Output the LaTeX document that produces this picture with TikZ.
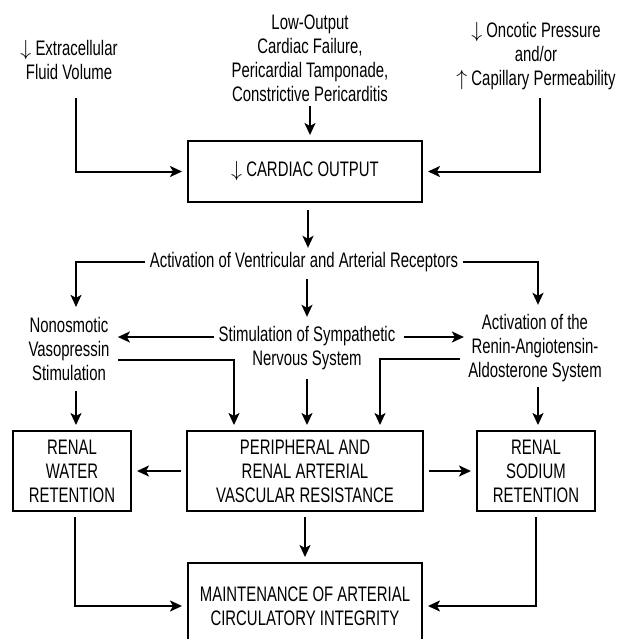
\documentclass[tikz,border=0pt]{standalone}
\usepackage{fontspec}
\setmainfont{Liberation Sans}[FakeStretch=0.71]
\usetikzlibrary{arrows.meta}

\begin{document}
\begin{tikzpicture}[x=0.5pt, y=-0.5pt, font=\fontsize{10.5pt}{12pt}\selectfont,
    txt/.style={align=center, inner sep=2pt},
    boxed/.style={draw, line width=1pt, align=center, outer sep=3pt},
    widebox/.style={boxed, minimum width=117pt, minimum height=40pt},
    narrowbox/.style={boxed, minimum width=59pt, minimum height=40pt},
    arr/.style={line width=1pt, -{Stealth[length=6pt, width=5.5pt, inset=1.5pt]}}]
    \useasboundingbox (0,0) rectangle (625,639);
    \clip (0,0) rectangle (625,639);

    % causes
    \node[txt] (ecf) at (69,60) {$\downarrow$ Extracellular\\Fluid Volume};
    \node[txt] (lco) at (310,58) {Low-Output\\Cardiac Failure,\\Pericardial Tamponade,\\Constrictive Pericarditis};
    \node[txt] (onc) at (536,56) {$\downarrow$ Oncotic Pressure\\and/or\\$\uparrow$ Capillary Permeability};
    \node[widebox, minimum height=30.5pt] (co) at (305,171.5) {$\downarrow$ CARDIAC OUTPUT};

    % responses
    \node[txt] (avr) at (304,262) {Activation of Ventricular and Arterial Receptors};
    \node[txt] (vaso) at (69,349) {Nonosmotic\\Vasopressin\\Stimulation};
    \node[txt] (symp) at (307,348) {Stimulation of Sympathetic\\Nervous System};
    \node[txt] (raas) at (535,348) {Activation of the\\Renin-Angiotensin-\\Aldosterone System};

    \node[narrowbox] (water) at (72,471) {RENAL\\WATER\\RETENTION};
    \node[widebox, minimum width=118pt] (periph) at (305,471) {PERIPHERAL AND\\RENAL ARTERIAL\\VASCULAR RESISTANCE};
    \node[narrowbox] (sodium) at (536,471) {RENAL\\SODIUM\\RETENTION};
    \node[widebox, minimum height=43pt] (maint) at (305,606) {MAINTENANCE OF ARTERIAL\\CIRCULATORY INTEGRITY};

    \draw[arr, shorten <=7pt] ([xshift=3.5pt]ecf.south) |- (co);
    \draw[arr] (lco.south) -- (lco.south |- co.north);
    \draw[arr, shorten <=2pt] ([xshift=2pt]onc.south) |- (co);
    \draw[arr, shorten <=1pt] ([xshift=1.5pt]co.south) -- ([xshift=1.5pt]co.south |- avr.north);

    \draw[arr, shorten >=3pt] (avr.west) -| ([xshift=3.5pt]vaso.north);
    \draw[arr, shorten >=2.5pt] (avr.east) -| ([xshift=1.5pt]raas.north);
    \draw[arr, shorten <=1.5pt, shorten >=2.5pt] (avr.south -| symp.north) -- (symp.north);

    \draw[arr, shorten >=2pt] ([yshift=5.5pt]symp.west) -- ([yshift=5.5pt]symp.west -| vaso.east);
    \draw[arr, shorten <=2pt] ([yshift=5.5pt]symp.east) -- ([yshift=5.5pt]symp.east -| raas.west);

    \draw[arr, shorten <=2pt] ([yshift=-5.5pt]vaso.east) -| ([xshift=-35.5pt]periph.north);
    \draw[arr, shorten <=2pt] ([yshift=-5.5pt]raas.west) -| ([xshift=37.5pt]periph.north);
    \draw[arr, shorten <=2.5pt] (symp.south) -- (symp.south |- periph.north);
    \draw[arr, shorten <=3pt] ([xshift=3.5pt]vaso.south) -- ([xshift=3.5pt]vaso.south |- water.north);
    \draw[arr, shorten <=0.5pt] ([xshift=1.5pt]raas.south) -- ([xshift=1.5pt]raas.south |- sodium.north);

    \draw[arr] (periph) -- (water);
    \draw[arr] (periph) -- (sodium);
    \draw[arr] (periph) -- (maint);
    \draw[arr] ([xshift=1.5pt]water.south) |- (maint);
    \draw[arr] (sodium.south) |- (maint);
\end{tikzpicture}
\end{document}
